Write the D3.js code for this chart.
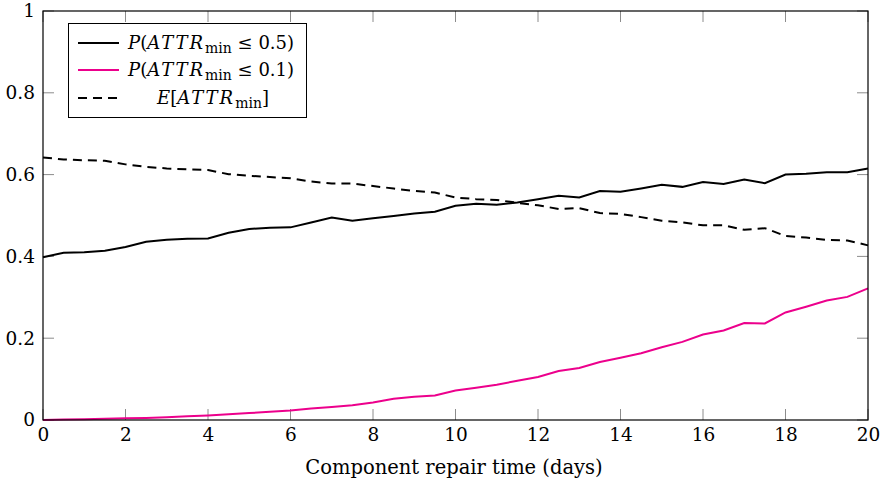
<!DOCTYPE html>
<html><head><meta charset="utf-8">
<script src="https://cdn.jsdelivr.net/npm/d3@7"></script>
<style>body{margin:0;background:#fff}svg{display:block}</style>
</head><body>
<svg id="c" width="883" height="487"></svg>
<script>
const xs = d3.range(0, 20.001, 0.5);
const p05 = [0.398,0.409,0.410,0.414,0.423,0.436,0.441,0.443,0.444,0.458,0.467,0.470,0.471,0.483,0.495,0.487,0.493,0.499,0.505,0.509,0.524,0.529,0.526,0.532,0.540,0.548,0.544,0.560,0.558,0.566,0.575,0.570,0.582,0.577,0.588,0.579,0.600,0.602,0.606,0.606,0.615];
const p01 = [0,0.001,0.002,0.003,0.004,0.005,0.007,0.009,0.011,0.014,0.017,0.020,0.023,0.028,0.032,0.036,0.043,0.052,0.057,0.060,0.072,0.079,0.086,0.096,0.105,0.120,0.127,0.142,0.152,0.163,0.178,0.191,0.209,0.219,0.237,0.236,0.263,0.277,0.292,0.301,0.322];
const eAttr = [0.642,0.637,0.635,0.634,0.625,0.619,0.615,0.613,0.611,0.601,0.597,0.594,0.591,0.583,0.578,0.578,0.572,0.566,0.560,0.556,0.544,0.540,0.538,0.531,0.525,0.516,0.518,0.506,0.504,0.496,0.487,0.483,0.476,0.476,0.465,0.469,0.450,0.446,0.440,0.439,0.427];
const xTicks = [0,2,4,6,8,10,12,14,16,18,20];
const yTicks = [0,0.2,0.4,0.6,0.8,1];
const yTickLabels = ["0","0.2","0.4","0.6","0.8","1"];
const xLabel = "Component repair time (days)";

const svg = d3.select("#c");
const L=43, R=868, T=11, B=420;
const x = d3.scaleLinear().domain([0,20]).range([L,R]);
const y = d3.scaleLinear().domain([0,1]).range([B,T]);
const font = "'DejaVu Serif', serif";
const tickCol = "#8c8c8c";

const g = svg.append("g");
xTicks.forEach(t=>{
  g.append("line").attr("x1",x(t)).attr("x2",x(t)).attr("y1",B).attr("y2",B-11).attr("stroke",tickCol).attr("stroke-width",1);
  g.append("line").attr("x1",x(t)).attr("x2",x(t)).attr("y1",T).attr("y2",T+11).attr("stroke",tickCol).attr("stroke-width",1);
});
yTicks.forEach(t=>{
  g.append("line").attr("x1",L).attr("x2",L+11).attr("y1",y(t)).attr("y2",y(t)).attr("stroke",tickCol).attr("stroke-width",1);
  g.append("line").attr("x1",R).attr("x2",R-11).attr("y1",y(t)).attr("y2",y(t)).attr("stroke",tickCol).attr("stroke-width",1);
});

const xa = svg.append("g").attr("transform",`translate(0,${B})`)
  .call(d3.axisBottom(x).tickValues(xTicks).tickSize(0).tickPadding(8).tickFormat(d3.format("d")));
xa.select(".domain").remove();
xa.selectAll("text").attr("font-family",font).attr("font-size",18.5).attr("fill","#000");
const ya = svg.append("g").attr("transform",`translate(${L},0)`)
  .call(d3.axisLeft(y).tickValues(yTicks).tickSize(0).tickPadding(8).tickFormat((d,i)=>yTickLabels[i]));
ya.select(".domain").remove();
ya.selectAll("text").attr("font-family",font).attr("font-size",18.5).attr("fill","#000");

const line = d3.line().x((d,i)=>x(xs[i])).y(d=>y(d));
svg.append("path").datum(eAttr).attr("d",line).attr("fill","none").attr("stroke","#000").attr("stroke-width",2).attr("stroke-dasharray","9,6");
svg.append("path").datum(p05).attr("d",line).attr("fill","none").attr("stroke","#000").attr("stroke-width",2);
svg.append("path").datum(p01).attr("d",line).attr("fill","none").attr("stroke","#ec008c").attr("stroke-width",2);

svg.append("rect").attr("x",L).attr("y",T).attr("width",R-L).attr("height",B-T).attr("fill","none").attr("stroke","#000").attr("stroke-width",1.2);

svg.append("text").attr("x",454).attr("y",474).attr("text-anchor","middle")
  .attr("font-family",font).attr("font-size",19.5).text(xLabel);

const lg = svg.append("g");
lg.append("rect").attr("x",68.5).attr("y",23.5).attr("width",238).attr("height",94).attr("fill","#fff").attr("stroke","#000").attr("stroke-width",1);
const entries = [
  {col:"#000",dash:null,num:"0.5)",type:"P"},
  {col:"#ec008c",dash:null,num:"0.1)",type:"P"},
  {col:"#000",dash:"9,6",type:"E"}
];
const rowsY=[43,70,98];
entries.forEach((e,i)=>{
  const yy = rowsY[i];
  lg.append("line").attr("x1",78).attr("x2",119).attr("y1",yy).attr("y2",yy).attr("stroke",e.col).attr("stroke-width",2).attr("stroke-dasharray",e.dash);
  const t = lg.append("text").attr("y",yy+6).attr("font-family",font).attr("font-size",18);
  const lead = e.type==="P" ? "P" : "E";
  const open = e.type==="P" ? "(" : "[";
  if(e.type==="P") t.attr("x",128); else t.attr("x",213).attr("text-anchor","middle");
  t.append("tspan").attr("font-style","italic").text(lead);
  t.append("tspan").text(open);
  t.append("tspan").attr("font-style","italic").attr("letter-spacing",2).text("ATTR");
  t.append("tspan").attr("font-size",14).attr("dy",4).text("min");
  t.append("tspan").attr("dy",-4).text(e.type==="P" ? " ≤ "+e.num : "]");
});
</script>
</body></html>
